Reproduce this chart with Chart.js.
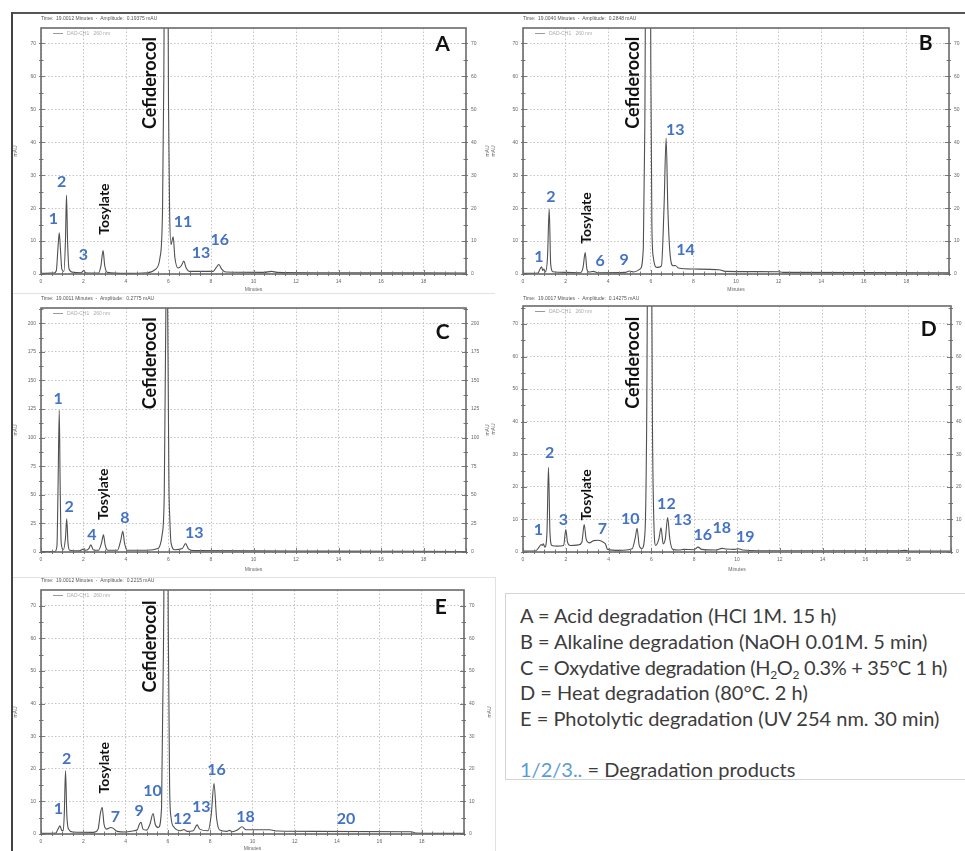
<!DOCTYPE html>
<html><head><meta charset="utf-8">
<script src="https://cdn.jsdelivr.net/npm/chart.js@4.4.1/dist/chart.umd.min.js"></script>
<style>
html,body{margin:0;padding:0;background:#fff;width:965px;height:851px;overflow:hidden;position:relative;font-family:Lato,sans-serif}
canvas{position:absolute}
.ln{position:absolute}
#legendBox{position:absolute;left:505px;top:593px;width:470px;height:187px;border:1px solid #d4d4d4;box-sizing:border-box}
.lg{position:absolute;left:520px;font-size:20px;color:#3c3c3c;white-space:nowrap;line-height:26px}
.lg sub{font-size:0.6em;line-height:0;vertical-align:-0.3em}
</style></head><body>
<div class="ln" style="left:11px;top:12px;width:954px;height:2px;background:#555"></div>
<div class="ln" style="left:11px;top:12px;width:2px;height:839px;background:#444"></div>
<div class="ln" style="left:13px;top:293px;width:482px;height:1px;background:#e2e2e2"></div>
<div class="ln" style="left:13px;top:577px;width:483px;height:1px;background:#e2e2e2"></div>
<div class="ln" style="left:495px;top:577px;width:1px;height:274px;background:#e2e2e2"></div>
<div id="legendBox"></div>
<div class="lg" style="top:602px">A = Acid degradation (HCl 1M. 15 h)</div>
<div class="lg" style="top:628px">B = Alkaline degradation (NaOH 0.01M. 5 min)</div>
<div class="lg" style="top:654px;letter-spacing:-0.35px">C = Oxydative degradation (H<sub>2</sub>O<sub>2</sub> 0.3% + 35°C 1 h)</div>
<div class="lg" style="top:679px">D = Heat degradation (80°C. 2 h)</div>
<div class="lg" style="top:705px">E = Photolytic degradation (UV 254 nm. 30 min)</div>
<div class="lg" style="top:756px"><span style="color:#5b9bd5">1/2/3..</span> = Degradation products</div>

<canvas id="cA" width="478" height="280" style="left:12px;top:13px"></canvas>
<canvas id="cB" width="475" height="280" style="left:490px;top:13px"></canvas>
<canvas id="cC" width="478" height="284" style="left:12px;top:293px"></canvas>
<canvas id="cD" width="475" height="284" style="left:490px;top:293px"></canvas>
<canvas id="cE" width="483" height="274" style="left:12px;top:577px"></canvas>

<script>
// ---------- DATA ----------
// tick labels
const minuteTicks = [0,2,4,6,8,10,12,14,16,18];
const mauTicks75  = [0,10,20,30,40,50,60,70];
const mauTicksC   = [0,25,50,75,100,125,150,175,200];

// traces: [retention time (min), absorbance (mAU)]
const traceA = [[0,0.2],[0.6,0.3],[0.72,1.0],[0.8,8],[0.86,12.5],[0.92,7],[0.98,1.5],[1.08,0.8],[1.15,10],[1.2,24],[1.25,10],[1.32,1.5],[1.5,0.5],[1.9,0.4],[2.0,1.0],[2.1,0.4],[2.7,0.3],[2.82,2.5],[2.92,7.1],[3.0,2.5],[3.12,0.5],[4.0,0.2],[5.0,0.4],[5.4,1.5],[5.6,5],[5.72,20],[5.78,60],[5.83,120],[5.95,120],[6.0,52],[6.05,20],[6.12,9],[6.22,11.3],[6.3,5],[6.45,1.8],[6.6,2.5],[6.72,3.9],[6.82,2],[7.0,0.8],[8.1,0.8],[8.25,2],[8.37,2.9],[8.5,1.5],[8.7,0.6],[10.5,0.5],[10.85,0.8],[11.1,0.5],[13.0,0.4],[20.0,0.3]];
const traceB = [[0,0.2],[0.7,0.3],[0.8,1.5],[0.87,2.2],[0.93,1.0],[0.98,1.5],[1.05,0.6],[1.15,5],[1.23,19.8],[1.3,3],[1.4,0.7],[2.0,0.5],[2.7,0.4],[2.82,2],[2.92,6.5],[3.0,1.5],[3.1,0.6],[3.3,0.8],[3.5,0.4],[4.8,0.5],[5.0,0.9],[5.2,0.6],[5.5,1.5],[5.65,8],[5.72,45],[5.78,120],[5.97,120],[6.0,65],[6.05,15],[6.12,5],[6.3,2],[6.5,2.5],[6.62,20],[6.72,41.3],[6.8,20],[6.92,5],[7.05,2.5],[7.15,2.6],[7.3,1.8],[8.0,1.5],[9.2,1.3],[9.5,0.8],[12.0,0.7],[12.2,0.5],[20,0.4]];
const traceC = [[0,0.5],[0.65,0.5],[0.75,5],[0.8,54],[0.86,124],[0.9,60],[0.95,8],[1.05,2],[1.15,12],[1.21,29],[1.27,8],[1.35,1.5],[1.8,1],[2.0,2.5],[2.1,1.5],[2.25,3],[2.35,6.4],[2.45,2],[2.7,1.5],[2.85,8],[2.94,15],[3.02,6],[3.15,1.5],[3.6,1.5],[3.75,10],[3.85,18],[3.93,8],[4.05,1.5],[5.0,1.5],[5.5,3],[5.7,15],[5.8,50],[5.88,220],[5.93,260],[5.98,165],[6.02,60],[6.06,30],[6.12,8],[6.3,2],[6.65,3],[6.8,7.3],[6.95,2.5],[7.2,1.2],[10,1],[13,0.8],[20,0.5]];
const traceD = [[0,0.3],[0.6,0.4],[0.75,1.5],[0.85,2.3],[0.9,2.0],[0.95,2.5],[1.02,1.5],[1.12,6],[1.19,26],[1.26,6],[1.35,2],[1.6,1.8],[1.9,2],[2.0,6.9],[2.08,3],[2.2,2],[2.6,2.2],[2.75,3],[2.86,8.4],[2.95,4],[3.1,2.8],[3.3,3.5],[3.5,3.6],[3.7,3.2],[3.85,2.5],[3.95,0.8],[4.5,0.5],[5.1,1],[5.25,4.5],[5.33,7.3],[5.43,2],[5.55,1],[5.7,6],[5.78,40],[5.85,120],[5.98,120],[6.05,38],[6.12,8],[6.2,2],[6.35,4],[6.45,7.4],[6.55,2.5],[6.65,4],[6.76,10.6],[6.86,4],[7.0,0.8],[7.3,0.6],[7.5,0.8],[8.0,0.7],[8.18,1.5],[8.35,0.8],[9.0,0.6],[9.3,1.1],[9.5,0.9],[9.9,0.8],[10.05,1.0],[10.3,0.6],[11,0.4],[17.6,0.4],[17.85,0.5],[18.1,0.3],[20,0.3]];
const traceE = [[0,0.2],[0.7,0.3],[0.8,1.5],[0.9,2.5],[0.97,1.2],[1.05,1],[1.1,6],[1.16,19.4],[1.22,6],[1.3,1.5],[1.5,0.6],[2.5,0.5],[2.7,1.5],[2.8,6],[2.89,8.2],[2.98,3],[3.1,1.5],[3.3,2],[3.4,1.8],[3.6,0.8],[4.0,0.6],[4.4,1],[4.55,1.3],[4.65,3],[4.73,3.6],[4.82,1.5],[5.0,1.2],[5.15,3],[5.3,6.3],[5.4,3],[5.55,2],[5.7,8],[5.8,65],[5.86,120],[5.97,120],[6.02,62],[6.08,15],[6.15,5],[6.3,2],[6.6,1],[6.76,1.4],[6.9,0.8],[7.2,1],[7.38,2.8],[7.5,1.5],[7.9,1],[8.05,6],[8.18,15.5],[8.3,5],[8.45,1.2],[8.8,0.8],[8.9,1.1],[9.05,0.7],[9.3,1.3],[9.5,2.2],[9.7,1.3],[10.0,1.3],[10.8,1.3],[11.2,0.9],[13,0.8],[17.5,0.7],[17.7,0.3],[20,0.2]];

// peak labels: [text, time, mAU]
const peaksA = [['1',0.58,16.7],['2',0.97,27.9],['3',1.99,5.8],['11',6.68,15.8],['13',7.53,6.4],['16',8.41,10.3]];
const peaksB = [['1',0.75,5.3],['2',1.31,23.4],['6',3.62,4.0],['9',4.75,4.3],['13',7.15,43.7],['14',7.63,7.3]];
const peaksC = [['1',0.81,133.7],['2',1.32,39.1],['4',2.39,15.2],['8',3.95,29.8],['13',7.21,17.0]];
const peaksD = [['1',0.72,6.8],['2',1.24,30.3],['3',1.89,10.0],['7',3.71,7.0],['10',5.01,10.3],['12',6.70,14.7],['13',7.45,10.0],['16',8.40,5.2],['18',9.29,7.3],['19',10.39,4.7]];
const peaksE = [['1',0.82,7.6],['2',1.21,23.0],['7',3.52,5.3],['9',4.64,7.1],['10',5.27,13.3],['12',6.68,4.5],['13',7.58,8.4],['16',8.30,19.8],['18',9.67,5.3],['20',14.42,4.5]];
// compound names: [text, time, mAU]
const namesA = [['Tosylate',2.98,19.7],['Cefiderocol',5.13,58.0]];
const namesB = [['Tosylate',2.96,17.0],['Cefiderocol',5.17,58.1]];
const namesC = [['Tosylate',2.93,50.5],['Cefiderocol',5.13,165]];
const namesD = [['Tosylate',2.97,17.5],['Cefiderocol',5.17,58.1]];
const namesE = [['Tosylate',2.99,20.3],['Cefiderocol',5.14,57.5]];
// panel letters: [letter, time, mAU]
const letterA = ['A',18.9,69.7], letterB = ['B',18.9,70.0], letterC = ['C',18.9,192.6], letterD = ['D',18.96,68.4], letterE = ['E',18.9,69.4];
const titles = {
  A:'Time:  19.0012 Minutes  -  Amplitude:  0.19375 mAU',
  B:'Time:  19.0040 Minutes  -  Amplitude:  0.2848 mAU',
  C:'Time:  19.0011 Minutes  -  Amplitude:  0.2775 mAU',
  D:'Time:  19.0017 Minutes  -  Amplitude:  0.14275 mAU',
  E:'Time:  19.0012 Minutes  -  Amplitude:  0.2215 mAU'
};

// ---------- RENDERING ----------
const BLUE = '#4472c4';
function decorPlugin(p){
  return {
    id:'decor',
    afterDatasetsDraw(chart){
      const ctx = chart.ctx, a = chart.chartArea, x = chart.scales.x, y = chart.scales.y;
      ctx.save();
      // minor ticks
      ctx.strokeStyle = '#7a7a7a'; ctx.lineWidth = 1; ctx.beginPath();
      for (let t = 0; t <= 20.001; t += 0.5){
        const px = Math.round(x.getPixelForValue(t)) + 0.5;
        const len = (Math.abs(t % 2) < 1e-6) ? 4 : 2.5;
        ctx.moveTo(px, a.bottom); ctx.lineTo(px, a.bottom - len);
        ctx.moveTo(px, a.bottom); ctx.lineTo(px, a.bottom + 2);
      }
      for (let v = 0; v <= p.ymax; v += p.minor){
        const py = Math.round(y.getPixelForValue(v)) + 0.5;
        const len = (v % p.major === 0) ? 4 : 2.5;
        ctx.moveTo(a.left - 2, py); ctx.lineTo(a.left + len, py);
        ctx.moveTo(a.right + 2, py); ctx.lineTo(a.right - len, py);
      }
      ctx.stroke();
      // frame
      ctx.strokeStyle = '#6a6a6a'; ctx.lineWidth = 1.6;
      ctx.strokeRect(a.left, a.top, a.right - a.left, a.bottom - a.top);
      // small header texts
      ctx.fillStyle = '#555'; ctx.font = '5px "Liberation Sans"'; ctx.textBaseline = 'middle'; ctx.textAlign = 'left';
      ctx.fillText(p.title, a.left, p.titleY);
      ctx.strokeStyle = '#999'; ctx.lineWidth = 1; ctx.beginPath();
      ctx.moveTo(a.left + 12, a.top + 5.5); ctx.lineTo(a.left + 22, a.top + 5.5); ctx.stroke();
      ctx.fillStyle = '#aaa'; ctx.fillText('DAD-CH1   260 nm', a.left + 26, a.top + 5.5);
      // axis titles
      ctx.fillStyle = '#666'; ctx.textAlign = 'center';
      ctx.fillText('Minutes', (a.left + a.right) / 2, p.minutesY);
      const cy = (a.top + a.bottom) / 2;
      ctx.save(); ctx.translate(p.mauX, cy); ctx.rotate(-Math.PI / 2); ctx.fillText('mAU', 0, 0); ctx.restore();
      if (p.mauRightX){ ctx.save(); ctx.translate(p.mauRightX, cy); ctx.rotate(-Math.PI / 2); ctx.fillText('mAU', 0, 0); ctx.restore(); }
      // peak labels
      ctx.fillStyle = BLUE; ctx.font = 'bold 16px Lato'; ctx.textAlign = 'center'; ctx.textBaseline = 'middle';
      p.peaks.forEach(([txt, t, v]) => ctx.fillText(txt, x.getPixelForValue(t), y.getPixelForValue(v)));
      // compound names
      ctx.fillStyle = '#111';
      p.names.forEach(([txt, t, v]) => {
        ctx.save(); ctx.translate(x.getPixelForValue(t), y.getPixelForValue(v)); ctx.rotate(-Math.PI / 2);
        ctx.font = txt === 'Cefiderocol' ? 'bold 18px Lato' : 'bold 14px Lato';
        ctx.fillText(txt, 0, 0); ctx.restore();
      });
      // panel letter
      ctx.fillStyle = '#111'; ctx.font = 'bold 21px Lato';
      ctx.fillText(p.letter[0], x.getPixelForValue(p.letter[1]), y.getPixelForValue(p.letter[2]));
      ctx.restore();
    }
  };
}

function makePanel(id, trace, p){
  const tickFont = {family:'Liberation Sans', size:5};
  new Chart(document.getElementById(id), {
    type:'line',
    data:{datasets:[{data:trace.map(([t,v]) => ({x:t, y:v})), borderColor:'#505050', borderWidth:1.1,
      pointRadius:0, fill:false, cubicInterpolationMode:'monotone'}]},
    options:{
      responsive:false, animation:false, devicePixelRatio:1,
      layout:{padding:{top:p.pt, left:0, right:0, bottom:0}},
      plugins:{legend:{display:false}, tooltip:{enabled:false}},
      scales:{
        x:{type:'linear', position:'bottom', min:0, max:20,
          afterFit:s => { s.height = p.pb; },
          afterBuildTicks:s => { s.ticks = minuteTicks.map(v => ({value:v})); },
          ticks:{font:tickFont, color:'#666', padding:5, maxRotation:0, autoSkip:false},
          grid:{color:'#c4c4c4', lineWidth:1, drawTicks:false},
          border:{display:false, dash:[1.5,2]}},
        y:{type:'linear', position:'left', min:0, max:p.ymax,
          afterFit:s => { s.width = p.pl; },
          afterBuildTicks:s => { s.ticks = p.yticks.map(v => ({value:v})); },
          ticks:{font:tickFont, color:'#666', padding:5, autoSkip:false},
          grid:{color:'#c4c4c4', lineWidth:1, drawTicks:false},
          border:{display:false, dash:[1.5,2]}},
        y2:{type:'linear', position:'right', min:0, max:p.ymax,
          afterFit:s => { s.width = p.pr; },
          afterBuildTicks:s => { s.ticks = p.yticks.map(v => ({value:v})); },
          ticks:{font:tickFont, color:'#666', padding:5, autoSkip:false},
          grid:{display:false, drawTicks:false},
          border:{display:false}}
      }
    },
    plugins:[decorPlugin(p)]
  });
}

makePanel('cA', traceA, {pl:29, pr:24, pt:15, pb:19, ymax:74.7, yticks:mauTicks75, minor:5, major:10,
  title:titles.A, titleY:6, minutesY:277, mauX:4, mauRightX:476, peaks:peaksA, names:namesA, letter:letterA});
makePanel('cB', traceB, {pl:33, pr:16, pt:15, pb:19, ymax:74.7, yticks:mauTicks75, minor:5, major:10,
  title:titles.B, titleY:6, minutesY:277, mauX:4, mauRightX:0, peaks:peaksB, names:namesB, letter:letterB});
makePanel('cC', traceC, {pl:29, pr:24, pt:15, pb:25, ymax:213.4, yticks:mauTicksC, minor:12.5, major:25,
  title:titles.C, titleY:6, minutesY:277, mauX:4, mauRightX:476, peaks:peaksC, names:namesC, letter:letterC});
makePanel('cD', traceD, {pl:33, pr:14, pt:13, pb:25, ymax:75.5, yticks:mauTicks75, minor:5, major:10,
  title:titles.D, titleY:6, minutesY:277, mauX:4, mauRightX:0, peaks:peaksD, names:namesD, letter:letterD});
makePanel('cE', traceE, {pl:29, pr:31, pt:13, pb:17, ymax:74.8, yticks:mauTicks75, minor:5, major:10,
  title:titles.E, titleY:4, minutesY:272, mauX:4, mauRightX:478, peaks:peaksE, names:namesE, letter:letterE});
</script>
</body></html>
